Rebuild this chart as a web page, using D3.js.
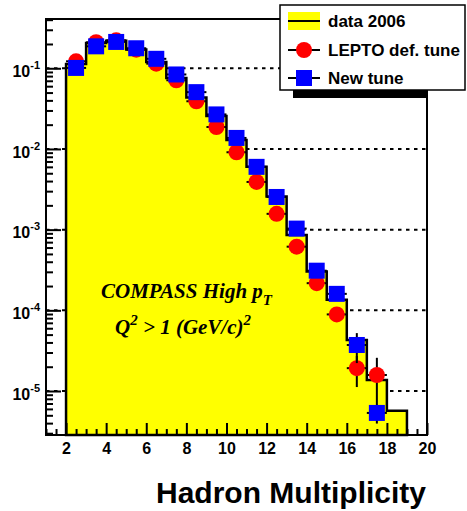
<!DOCTYPE html>
<html><head><meta charset="utf-8">
<script src="https://cdn.jsdelivr.net/npm/d3@7"></script>
<style>body{margin:0;background:#fff}svg{display:block}</style>
</head><body>
<svg id="c" width="467" height="511"></svg>
<script>
// ---- data ----
const binLow = [2,3,4,5,6,7,8,9,10,11,12,13,14,15,16,17,18];
const dataHist = [0.113,0.206,0.22,0.171,0.12,0.0758,0.0435,0.0257,0.0129,0.0060,0.00257,0.00086,0.000302,0.000135,0.000043,0.0000137,0.0000057];
const centers = [2.5,3.5,4.5,5.5,6.5,7.5,8.5,9.5,10.5,11.5,12.5,13.5,14.5,15.5,16.5,17.5];
const leptoVals = [0.122,0.21,0.222,0.17,0.114,0.071,0.039,0.0187,0.0091,0.0039,0.00157,0.000615,0.000217,0.000089,0.0000192,0.0000158];
const leptoErr  = [0.002,0.003,0.003,0.003,0.002,0.0015,0.001,0.0006,0.0004,0.0002,0.0001,0.00005,0.00002,0.000012,0.000008,0.00001];
const newVals = [0.101,0.187,0.212,0.177,0.131,0.0838,0.0506,0.0268,0.0137,0.0060,0.00254,0.00103,0.00031,0.00016,0.0000372,0.00000535];
const newErr  = [0.0015,0.002,0.002,0.002,0.0015,0.001,0.0007,0.0004,0.0002,0.0001,0.00005,0.00002,0.00001,0.000008,0.000015,0.0000014];
const xTickLabels = [2,4,6,8,10,12,14,16,18,20];
const yTickExps = [-1,-2,-3,-4,-5];
const legendLabels = ["data 2006","LEPTO def. tune","New tune"];
const xTitle = "Hadron Multiplicity";

// ---- layout ----
const L=46, R=427, T=19, B=435;
const svg = d3.select("#c");
const x = d3.scaleLinear().domain([1,20]).range([L,R]);
const y = d3.scaleLog().domain([2.85e-6,0.408]).range([B,T]);
const yClamp = v => Math.max(T, Math.min(B, y(v)));
const SANS = "'Liberation Sans', Arial, Helvetica, sans-serif";
const SERIF = "'Liberation Serif', 'Times New Roman', serif";

// dotted grid at decades
svg.append("g").selectAll("line").data(yTickExps).join("line")
  .attr("x1",L).attr("x2",R)
  .attr("y1",d=>y(Math.pow(10,d))).attr("y2",d=>y(Math.pow(10,d)))
  .attr("stroke","#000").attr("stroke-width",2).attr("stroke-dasharray","3.5,4.5");

// histogram
const pts = [[binLow[0], y.domain()[0]]];
binLow.forEach((lo,i)=>{ pts.push([lo,dataHist[i]]); pts.push([lo+1,dataHist[i]]); });
pts.push([binLow[binLow.length-1]+1, y.domain()[0]]);
const line = d3.line().x(d=>x(d[0])).y(d=>yClamp(d[1]));
svg.append("path").attr("d", line(pts)+"Z")
  .attr("fill","#ffff00").attr("stroke","#000").attr("stroke-width",2.5).attr("stroke-linejoin","miter");

// series drawing
function drawSeries(vals, errs, kind, color){
  const g = svg.append("g");
  vals.forEach((v,i)=>{
    const cx = x(centers[i]);
    g.append("line").attr("x1",x(centers[i]-0.5)).attr("x2",x(centers[i]+0.5))
      .attr("y1",y(v)).attr("y2",y(v)).attr("stroke","#000").attr("stroke-width",2);
    g.append("line").attr("x1",cx).attr("x2",cx)
      .attr("y1",yClamp(v+errs[i])).attr("y2",yClamp(Math.max(v-errs[i],1e-9)))
      .attr("stroke","#000").attr("stroke-width",2);
  });
  vals.forEach((v,i)=>{
    const cx = x(centers[i]), cy=y(v);
    if(kind==="circle") g.append("circle").attr("cx",cx).attr("cy",cy).attr("r",8).attr("fill",color);
    else g.append("rect").attr("x",cx-8).attr("y",cy-8).attr("width",16).attr("height",16).attr("fill",color);
  });
}
drawSeries(leptoVals, leptoErr, "circle", "#ff0000");
drawSeries(newVals, newErr, "square", "#0000ff");

// frame
svg.append("rect").attr("x",L).attr("y",T).attr("width",R-L).attr("height",B-T)
  .attr("fill","none").attr("stroke","#000").attr("stroke-width",2);

// x ticks (inside)
const xMinor = d3.range(1,20.01,0.5).filter(v=>v%2!==0);
svg.append("g").attr("transform",`translate(0,${B})`)
  .call(d3.axisBottom(x).tickValues(xMinor).tickSize(-6).tickFormat(""))
  .call(g=>{g.select(".domain").remove(); g.selectAll("line").attr("stroke-width",2);});
svg.append("g").attr("transform",`translate(0,${B})`)
  .call(d3.axisBottom(x).tickValues(xTickLabels).tickSize(-12).tickPadding(8).tickFormat(d3.format("d")))
  .call(g=>{g.select(".domain").remove(); g.selectAll("line").attr("stroke-width",2);
    g.selectAll("text").attr("font-family",SANS).attr("font-weight","bold").attr("font-size",16).attr("fill","#000");});

// y ticks (inside)
const yMinor = [];
for(let e=-6;e<=-1;e++) for(let m=2;m<=9;m++){ const v=m*Math.pow(10,e); if(v>=y.domain()[0]&&v<=y.domain()[1]) yMinor.push(v); }
svg.append("g").attr("transform",`translate(${L},0)`)
  .call(d3.axisLeft(y).tickValues(yMinor).tickSize(-7).tickFormat(""))
  .call(g=>{g.select(".domain").remove(); g.selectAll("line").attr("stroke-width",2);});
svg.append("g").attr("transform",`translate(${L},0)`)
  .call(d3.axisLeft(y).tickValues(yTickExps.map(e=>Math.pow(10,e))).tickSize(-15).tickFormat(""))
  .call(g=>{g.select(".domain").remove(); g.selectAll("line").attr("stroke-width",2);});
const yl = svg.append("g").selectAll("text").data(yTickExps).join("text")
  .attr("x",40).attr("y",d=>y(Math.pow(10,d))+8.7).attr("text-anchor","end")
  .attr("font-family",SANS).attr("font-weight","bold").attr("fill","#000");
yl.append("tspan").attr("font-size",16).text("10");
yl.append("tspan").attr("font-size",11).attr("dy",-8).text(d=>String(d));

// x title
svg.append("text").attr("x",426).attr("y",503).attr("text-anchor","end")
  .attr("font-family",SANS).attr("font-weight","bold").attr("font-size",30).text(xTitle);

// annotation
const a1 = svg.append("text").attr("x",101).attr("y",298)
  .attr("font-family",SERIF).attr("font-weight","bold").attr("font-style","italic").attr("font-size",21);
a1.append("tspan").text("COMPASS High p");
a1.append("tspan").attr("font-size",15).attr("dy",7).text("T");
const a2 = svg.append("text").attr("x",115).attr("y",334)
  .attr("font-family",SERIF).attr("font-weight","bold").attr("font-style","italic").attr("font-size",21);
a2.append("tspan").text("Q");
a2.append("tspan").attr("font-size",15).attr("dy",-9).text("2");
a2.append("tspan").attr("dy",9).text(" > 1 (GeV/c)");
a2.append("tspan").attr("font-size",15).attr("dy",-9).text("2");

// legend
svg.append("rect").attr("x",293).attr("y",88).attr("width",135).attr("height",10).attr("fill","#000");
svg.append("rect").attr("x",280).attr("y",5).attr("width",185).attr("height",85)
  .attr("fill","#fff").attr("stroke","#000").attr("stroke-width",1.5);
const rows = [21,50,78];
legendLabels.forEach((lab,i)=>{
  const ry = rows[i];
  if(i===0) svg.append("rect").attr("x",288).attr("y",ry-9).attr("width",32).attr("height",18).attr("fill","#ffff00");
  svg.append("line").attr("x1",288).attr("x2",320).attr("y1",ry).attr("y2",ry).attr("stroke","#000").attr("stroke-width",2);
  if(i===1) svg.append("circle").attr("cx",304).attr("cy",ry).attr("r",8).attr("fill","#ff0000");
  if(i===2) svg.append("rect").attr("x",296).attr("y",ry-8).attr("width",16).attr("height",16).attr("fill","#0000ff");
  svg.append("text").attr("x",328).attr("y",ry+6).attr("font-family",SANS).attr("font-weight","bold")
    .attr("font-size",17).text(lab);
});
</script>
</body></html>
